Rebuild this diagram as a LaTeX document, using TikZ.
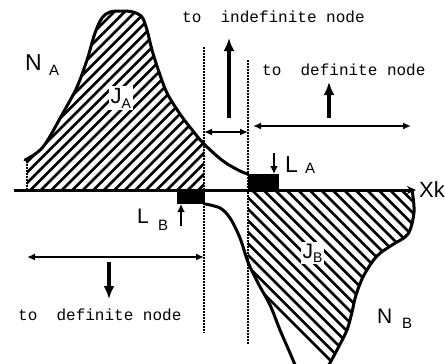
\documentclass[tikz,border=0pt]{standalone}
\usepackage{fontspec}
\setmainfont{Liberation Sans}
\newfontfamily\monofont{Liberation Mono}
\usetikzlibrary{arrows.meta}
\begin{document}
\begin{tikzpicture}[x=1pt,y=-1pt,
  curve/.style={line width=3pt,line cap=round,line join=round},
  hatch/.style={line width=2.5pt},
  sep/.style={line width=1.4pt,dash pattern=on 1.5pt off 1.5pt},
  bigarrow/.style={line width=3.8pt,-{Latex[length=13pt,width=11pt]}},
  dbl/.style={line width=2.3pt,{Latex[length=8pt,width=7pt]}-{Latex[length=8pt,width=7pt]}},
  small/.style={line width=2.6pt,-{Latex[length=8pt,width=8pt]}},
  lbl/.style={inner sep=0pt,anchor=base west},
  mono/.style={inner sep=0pt,anchor=base west,font=\monofont\fontsize{16}{16}\selectfont},
  blk/.style={fill=black}]
\useasboundingbox (0,0) rectangle (445,364);
\clip (0,0) rectangle (445,364);

% hatch A
\begin{scope}
  \clip (27,0) rectangle (204,190);
  \clip plot[smooth,tension=0.55] coordinates {(25,160) (43,147) (63,113) (77,87) (87,60) (95,33) (102,18) (110,12) (122,11) (133,12) (142,17) (147,30) (152,50) (159,72) (167,93) (180,114) (193,131) (204,144) (223,161) (240,171) (248,174)} -- (248,190) -- (25,190) -- cycle;
  \foreach \i in {-200,-189.5,...,230} \draw[hatch] (\i,200) -- ++(230,-230);
\end{scope}
% hatch B
\begin{scope}
  \clip (248,190) rectangle (445,364);
  \clip plot[smooth,tension=0.55] coordinates {(205,204) (220,208) (230,218) (240,238) (248,262) (258,283) (270,305) (280,330) (290,353) (298,372)} -- (325,372) -- plot[smooth,tension=0.55] coordinates {(325,372) (337,350) (347,330) (352,312) (356,295) (364,275) (377,256) (392,245) (408,234) (414,212) (412,190)} -- (205,190) -- cycle;
  \foreach \i in {150,161.5,...,450} \draw[hatch] (\i,180) -- ++(200,200);
\end{scope}

% curves
\draw[curve] plot[smooth,tension=0.55] coordinates {(25,160) (43,147) (63,113) (77,87) (87,60) (95,33) (102,18) (110,12) (122,11) (133,12) (142,17) (147,30) (152,50) (159,72) (167,93) (180,114) (193,131) (204,144) (223,161) (240,171) (248,174)};
\draw[curve] plot[smooth,tension=0.55] coordinates {(205,204) (220,208) (230,218) (240,238) (248,262) (258,283) (270,305) (280,330) (290,353) (298,372)};
\draw[curve] plot[smooth,tension=0.55] coordinates {(325,372) (337,350) (347,330) (352,312) (356,295) (364,275) (377,256) (392,245) (408,234) (414,212) (412,190)};

% black blocks
\fill[blk] (248,174) rectangle (279,190);
\fill[blk] (177,190) rectangle (205,204);

% axis
\coordinate (ax0) at (14,190);
\coordinate (ax1) at (416,190);
\draw[line width=3pt,-{Stealth[length=9pt,width=8pt]}] (ax0) -- (ax1);
\node[lbl,font=\fontsize{22}{22}\selectfont] (xk) at (419,197) {Xk};

% separators
\coordinate (s1t) at (204,47);  \coordinate (s1b) at (204,333);
\coordinate (s2t) at (248,60);  \coordinate (s2b) at (248,345);
\coordinate (s0t) at (27,158);  \coordinate (s0b) at (27,190);
\draw[sep] (s1t) -- (s1b);
\draw[sep] (s2t) -- (s2b);
\draw[sep] (s0t) -- (s0b);

% texts
\node[mono] (t1) at (182,23) {to\ \ indefinite node};
\node[mono] (t2) at (262,75) {to\ \ definite node};
\node[mono] (t3) at (18,320) {to\ \ definite node};

% arrows
\coordinate (u1a) at (229,118); \coordinate (u1b) at (229,38);
\draw[bigarrow] (u1a) -- (u1b);
\coordinate (u2a) at (329,118); \coordinate (u2b) at (329,82);
\draw[bigarrow] (u2a) -- (u2b);
\coordinate (d1a) at (109,262); \coordinate (d1b) at (109,299);
\draw[bigarrow] (d1a) -- (d1b);
\coordinate (h1a) at (204,132); \coordinate (h1b) at (248,132);
\draw[dbl] (h1a) -- (h1b);
\coordinate (h2a) at (253,126); \coordinate (h2b) at (411,126);
\draw[dbl] (h2a) -- (h2b);
\coordinate (h3a) at (27,257); \coordinate (h3b) at (204,257);
\draw[dbl] (h3a) -- (h3b);
\coordinate (la1) at (274,153); \coordinate (la2) at (274,174);
\draw[small] (la1) -- (la2);
\coordinate (lb1) at (181,226); \coordinate (lb2) at (181,204);
\draw[small] (lb1) -- (lb2);

% labels
\node[lbl,font=\fontsize{23}{23}\selectfont] (na) at (25,70) {N};
\node[lbl,font=\fontsize{15}{15}\selectfont] (nas) at (49,75) {A};
\node[lbl,font=\fontsize{21}{21}\selectfont] (nb) at (377,323) {N};
\node[lbl,font=\fontsize{15}{15}\selectfont] (nbs) at (402,328) {B};
\node[lbl,font=\fontsize{23}{23}\selectfont] (la) at (285,172) {L};
\node[lbl,font=\fontsize{15}{15}\selectfont] (las) at (305,173) {A};
\node[lbl,font=\fontsize{21}{21}\selectfont] (lb) at (137,223) {L};
\node[lbl,font=\fontsize{15}{15}\selectfont] (lbs) at (158,230) {B};
\node[fill=white,inner sep=1.5pt,anchor=base west] (ja) at (109,103) {\fontsize{22}{22}\selectfont J\raisebox{-5pt}{\fontsize{14}{14}\selectfont A}};
\node[fill=white,inner sep=1.5pt,anchor=base west] (jb) at (301,258) {\fontsize{21}{21}\selectfont J\raisebox{-4pt}{\fontsize{14}{14}\selectfont B}};
\end{tikzpicture}
\end{document}
